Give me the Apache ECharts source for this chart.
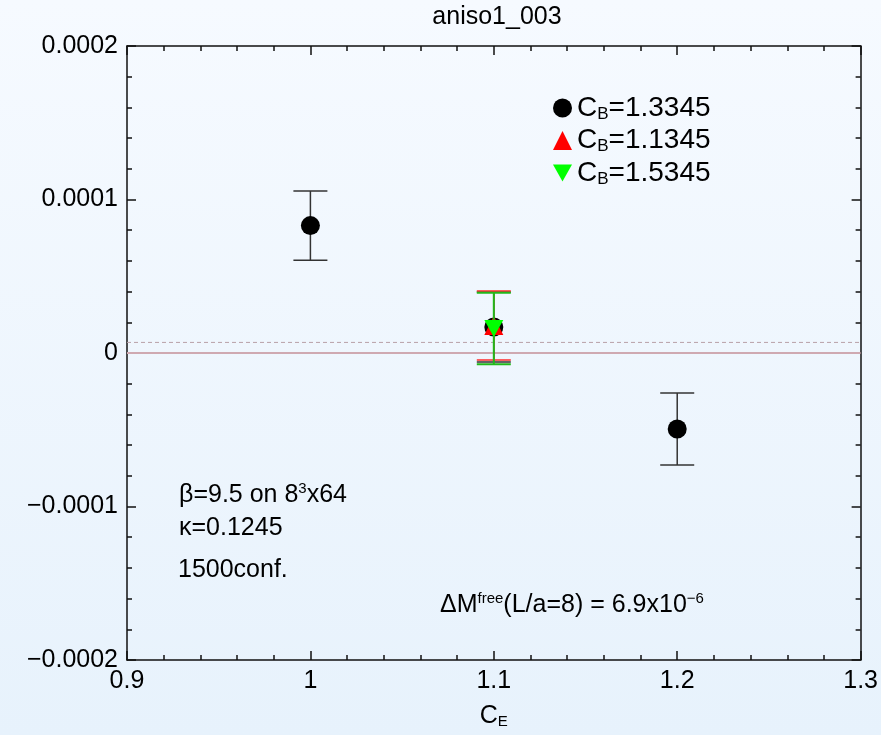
<!DOCTYPE html>
<html>
<head>
    <meta charset="utf-8">
    <title>aniso1_003</title>
    <script src="https://cdn.jsdelivr.net/npm/echarts@6/dist/echarts.min.js"></script>
    <style>
        html, body { margin: 0; padding: 0; }
        #main { width: 881px; height: 735px; }
    </style>
</head>
<body>
    <div id="main"></div>
    <script>
        // 数据：C_E 横坐标，各 C_B 的值与误差
        var ceValues = [1.0, 1.1, 1.2];
        var cb13345 = [8.3e-5, 1.69e-5, -4.95e-5];
        var cb13345Err = [2.25e-5, 2.28e-5, 2.35e-5];
        var cb11345Ce = [1.1];
        var cb11345 = [1.79e-5];
        var cb11345Err = [2.25e-5];
        var cb15345Ce = [1.1];
        var cb15345 = [1.6e-5];
        var cb15345Err = [2.33e-5];
        // 水平参考线：0 与 ΔM^free
        var hLineX = [0.9, 1.3];
        var zeroLine = [0, 0];
        var deltaMFree = [6.9e-6, 6.9e-6];

        var font = '"Liberation Sans", Arial, sans-serif';
        var myChart = echarts.init(document.getElementById('main'));

        function zip(xs, ys, es) {
            return xs.map(function (x, i) { return es ? [x, ys[i], es[i]] : [x, ys[i]]; });
        }

        // 误差棒
        function errorBar(color, width) {
            return function (params, api) {
                var x = api.value(0), y = api.value(1), e = api.value(2);
                var top = api.coord([x, y + e]);
                var bot = api.coord([x, y - e]);
                var hw = 17;
                var style = { stroke: color, lineWidth: width };
                return {
                    type: 'group',
                    children: [
                        { type: 'line', shape: { x1: top[0], y1: top[1], x2: bot[0], y2: bot[1] }, style: style },
                        { type: 'line', shape: { x1: top[0] - hw, y1: top[1], x2: top[0] + hw, y2: top[1] }, style: style },
                        { type: 'line', shape: { x1: bot[0] - hw, y1: bot[1], x2: bot[0] + hw, y2: bot[1] }, style: style }
                    ]
                };
            };
        }

        var downTri = 'path://M0,0 L10,0 L5,9 Z';
        var names = ['C_B=1.3345', 'C_B=1.1345', 'C_B=1.5345'];

        var rich = {
            a: { fontSize: 25, fontFamily: font, color: '#000' },
            sub: { fontSize: 15, fontFamily: font, color: '#000', padding: [11, 0, 0, 0] },
            sup: { fontSize: 15, fontFamily: font, color: '#000', padding: [0, 0, 14, 0] }
        };
        var legendRich = {
            a: { fontSize: 28, fontFamily: font, color: '#000' },
            sub: { fontSize: 17, fontFamily: font, color: '#000', padding: [12, 0, 0, 0] }
        };

        var axisCommon = {
            type: 'value',
            axisLine: { show: true, onZero: false, lineStyle: { color: '#111', width: 1.5 } },
            axisTick: { show: true, inside: true, length: 9, lineStyle: { color: '#111', width: 1.5 } },
            minorTick: { show: true, splitNumber: 5, length: 5, lineStyle: { color: '#111', width: 1.5 } },
            splitLine: { show: false }
        };

        var option = {
            animation: false,
            backgroundColor: {
                type: 'linear', x: 0, y: 0, x2: 0, y2: 1,
                colorStops: [{ offset: 0, color: '#f6faff' }, { offset: 1, color: '#e7f2fc' }]
            },
            title: {
                text: 'aniso1_003',
                left: 492, top: 0, textAlign: 'center',
                textStyle: { fontSize: 25, fontWeight: 'normal', fontFamily: font, color: '#000' }
            },
            grid: { left: 127, right: 19, top: 46, bottom: 75, containLabel: false },
            legend: {
                orient: 'vertical',
                left: 548, top: 89,
                itemWidth: 19, itemHeight: 19, itemGap: 4, itemTextGap: 8,
                data: [
                    { name: names[0], icon: 'circle' },
                    { name: names[1], icon: 'triangle' },
                    { name: names[2], icon: downTri }
                ],
                formatter: function (name) {
                    var p = name.split('=');
                    return '{a|C}{sub|B}{a|=' + p[1] + '}';
                },
                textStyle: { rich: legendRich }
            },
            xAxis: [
                Object.assign({}, axisCommon, {
                    min: 0.9, max: 1.3, interval: 0.1, position: 'bottom',
                    name: '{a|C}{sub|E}', nameLocation: 'middle', nameGap: 43,
                    nameTextStyle: { rich: rich },
                    axisLabel: {
                        fontSize: 25, fontFamily: font, color: '#000', margin: 9,
                        formatter: function (v) { return String(Math.round(v * 10) / 10); }
                    }
                }),
                Object.assign({}, axisCommon, {
                    min: 0.9, max: 1.3, interval: 0.1, position: 'top',
                    axisLabel: { show: false }
                })
            ],
            yAxis: [
                Object.assign({}, axisCommon, {
                    min: -0.0002, max: 0.0002, interval: 0.0001, position: 'left',
                    axisLabel: {
                        fontSize: 25, fontFamily: font, color: '#000', margin: 9,
                        formatter: function (v) {
                            var r = Math.round(v * 1e4) / 1e4;
                            if (r === 0) return '0';
                            return (r < 0 ? '\u2212' : '') + Math.abs(r).toFixed(4);
                        }
                    }
                }),
                Object.assign({}, axisCommon, {
                    min: -0.0002, max: 0.0002, interval: 0.0001, position: 'right',
                    axisLabel: { show: false }
                })
            ],
            graphic: [
                { type: 'text', left: 179, top: 481, style: { rich: rich, text: '{a|\u03b2=9.5 on 8}{sup|3}{a|x64}' } },
                { type: 'text', left: 179, top: 516, style: { rich: rich, text: '{a|\u03ba=0.1245}' } },
                { type: 'text', left: 178, top: 558, style: { rich: rich, text: '{a|1500conf.}' } },
                { type: 'text', left: 440, top: 591, style: { rich: rich, text: '{a|\u0394M}{sup|free}{a|(L/a=8) = 6.9x10}{sup|\u22126}' } }
            ],
            series: [
                {
                    type: 'line', z: 1, silent: true, showSymbol: false,
                    lineStyle: { color: '#cfa9b1', width: 2, type: 'solid' },
                    data: zip(hLineX, zeroLine)
                },
                {
                    type: 'line', z: 1, silent: true, showSymbol: false,
                    lineStyle: { color: '#b8a0a8', width: 1, type: [4, 3] },
                    data: zip(hLineX, deltaMFree)
                },
                {
                    type: 'custom', z: 2, renderItem: errorBar('#333', 1.5),
                    data: zip(ceValues, cb13345, cb13345Err), silent: true
                },
                {
                    name: names[0], type: 'scatter', z: 3, symbol: 'circle', symbolSize: 19,
                    itemStyle: { color: '#000', opacity: 1 },
                    data: zip(ceValues, cb13345)
                },
                {
                    type: 'custom', z: 4, renderItem: errorBar('#ff2a2a', 1.5),
                    data: zip(cb11345Ce, cb11345, cb11345Err), silent: true
                },
                {
                    name: names[1], type: 'scatter', z: 5, symbol: 'triangle', symbolSize: 19,
                    itemStyle: { color: '#ff0000', opacity: 1 },
                    data: zip(cb11345Ce, cb11345)
                },
                {
                    type: 'custom', z: 6, renderItem: errorBar('#22b81a', 2),
                    data: zip(cb15345Ce, cb15345, cb15345Err), silent: true
                },
                {
                    name: names[2], type: 'scatter', z: 7, symbol: downTri, symbolSize: [19, 17],
                    itemStyle: { color: '#00ff00', opacity: 1 },
                    data: zip(cb15345Ce, cb15345)
                }
            ]
        };

        myChart.setOption(option);
    </script>
</body>
</html>
